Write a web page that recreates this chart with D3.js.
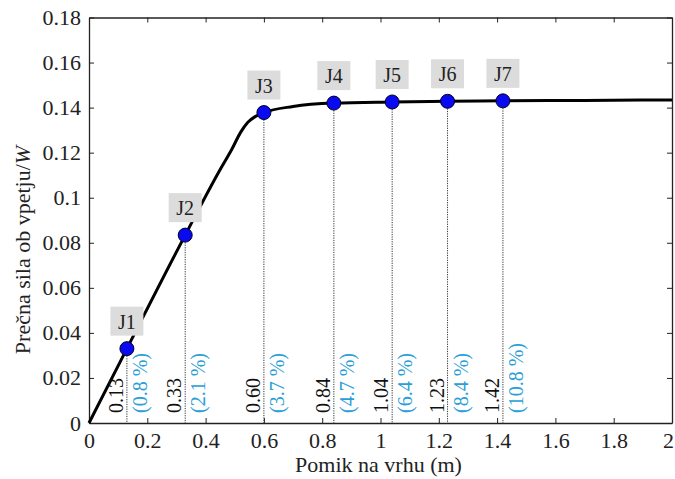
<!DOCTYPE html>
<html><head><meta charset="utf-8">
<script src="https://cdn.jsdelivr.net/npm/d3@7/dist/d3.min.js"></script>
<style>body{margin:0;background:#fff}svg{display:block}text{font-family:"Liberation Serif","Times New Roman",serif}</style>
</head><body><div id="c"></div>
<script>
const curveX = [0, 0.13, 0.33, 0.45, 0.49, 0.52, 0.545, 0.57, 0.60, 0.70, 0.84, 1.04, 1.23, 1.42, 1.7, 2.0];
const curveY = [0, 0.033, 0.0834, 0.1125, 0.1215, 0.1290, 0.1335, 0.1360, 0.1378, 0.1405, 0.1420, 0.1425, 0.1428, 0.1430, 0.1432, 0.1434];
const pointNames = ["J1","J2","J3","J4","J5","J6","J7"];
const pointX = [0.13, 0.33, 0.60, 0.84, 1.04, 1.23, 1.42];
const pointY = [0.033, 0.0834, 0.1378, 0.1420, 0.1425, 0.1428, 0.1430];
const dispLabels = ["0.13","0.33","0.60","0.84","1.04","1.23","1.42"];
const driftLabels = ["(0.8 %)","(2.1 %)","(3.7 %)","(4.7 %)","(6.4 %)","(8.4 %)","(10.8 %)"];
const xTicks = [0,0.2,0.4,0.6,0.8,1,1.2,1.4,1.6,1.8,2];
const yTicks = [0,0.02,0.04,0.06,0.08,0.1,0.12,0.14,0.16,0.18];

const W = 675, H = 479;
const m = {l:89, r:3, t:17.5, b:56};
const FF = "'Liberation Serif','Times New Roman',serif";
const svg = d3.select("#c").append("svg").attr("width", W).attr("height", H);
const x = d3.scaleLinear().domain([0,2]).range([m.l, W-m.r]);
const y = d3.scaleLinear().domain([0,0.18]).range([H-m.b, m.t]);
const fmt = d => d === 0 ? "0" : String(+d.toFixed(2));

// axes
const gx = svg.append("g").attr("transform",`translate(0,${y(0)})`)
  .call(d3.axisBottom(x).tickValues(xTicks).tickFormat(fmt).tickSizeInner(-5).tickSizeOuter(0).tickPadding(9));
const gxt = svg.append("g").attr("transform",`translate(0,${y(0.18)})`)
  .call(d3.axisTop(x).tickValues(xTicks).tickFormat("").tickSizeInner(-5).tickSizeOuter(0));
const gy = svg.append("g").attr("transform",`translate(${x(0)},0)`)
  .call(d3.axisLeft(y).tickValues(yTicks).tickFormat(fmt).tickSizeInner(-5).tickSizeOuter(0).tickPadding(8));
const gyr = svg.append("g").attr("transform",`translate(${x(2)},0)`)
  .call(d3.axisRight(y).tickValues(yTicks).tickFormat("").tickSizeInner(-5).tickSizeOuter(0));
[gx,gxt,gy,gyr].forEach(g=>{
  g.attr("font-family",FF);
  g.select(".domain").attr("stroke","#222").attr("stroke-width",1.3);
  g.selectAll(".tick line").attr("stroke","#222").attr("stroke-width",1);
  g.selectAll(".tick text").attr("font-size",22).attr("fill","#222").style("font-family",FF);
});
gx.selectAll(".tick text").filter(d=>d===2).attr("text-anchor","end").attr("dx",1.5);

// dotted drop lines
svg.append("g").selectAll("line").data(pointX).join("line")
  .attr("x1",d=>x(d)).attr("x2",d=>x(d))
  .attr("y1",(d,i)=>y(pointY[i])).attr("y2",y(0))
  .attr("stroke","#333").attr("stroke-width",1).attr("stroke-dasharray","1.2,1.2");

// curve
svg.append("path").datum(curveX.map((v,i)=>[v,curveY[i]]))
  .attr("d", d3.line().x(d=>x(d[0])).y(d=>y(d[1])).curve(d3.curveMonotoneX))
  .attr("fill","none").attr("stroke","#000").attr("stroke-width",3);

// rotated labels
const rl = svg.append("g");
pointX.forEach((v,i)=>{
  const px = x(v);
  rl.append("text").attr("transform",`translate(${px-4},${y(0)-10}) rotate(-90)`)
    .attr("font-size",20).attr("fill","#111").text(dispLabels[i]);
  rl.append("text").attr("transform",`translate(${px+20},${y(0)-10}) rotate(-90)`)
    .attr("font-size",20).attr("fill","#2a9ed8").text(driftLabels[i]);
});

// points
svg.append("g").selectAll("circle").data(pointX).join("circle")
  .attr("cx",d=>x(d)).attr("cy",(d,i)=>y(pointY[i])).attr("r",7)
  .attr("fill","#0a0af0").attr("stroke","#000022").attr("stroke-width",1);

// name boxes
const nb = svg.append("g");
pointX.forEach((v,i)=>{
  const cx = x(v), cy = y(pointY[i]);
  nb.append("rect").attr("x",cx-16.5).attr("y",cy-42).attr("width",33).attr("height",29)
    .attr("fill","#dcdcdc");
  nb.append("text").attr("x",cx).attr("y",cy-20).attr("text-anchor","middle")
    .attr("font-size",20).attr("fill","#222").text(pointNames[i]);
});

// axis titles
svg.append("text").attr("x",(x(0)+x(2))/2 - 2).attr("y",472).attr("text-anchor","middle")
  .attr("font-size",22).attr("fill","#222").text("Pomik na vrhu (m)");
const yt = svg.append("text").attr("transform",`translate(30,250) rotate(-90)`)
  .attr("text-anchor","middle").attr("font-size",22).attr("fill","#222");
yt.append("tspan").text("Prečna sila ob vpetju/");
yt.append("tspan").attr("font-style","italic").text("W");
</script></body></html>
